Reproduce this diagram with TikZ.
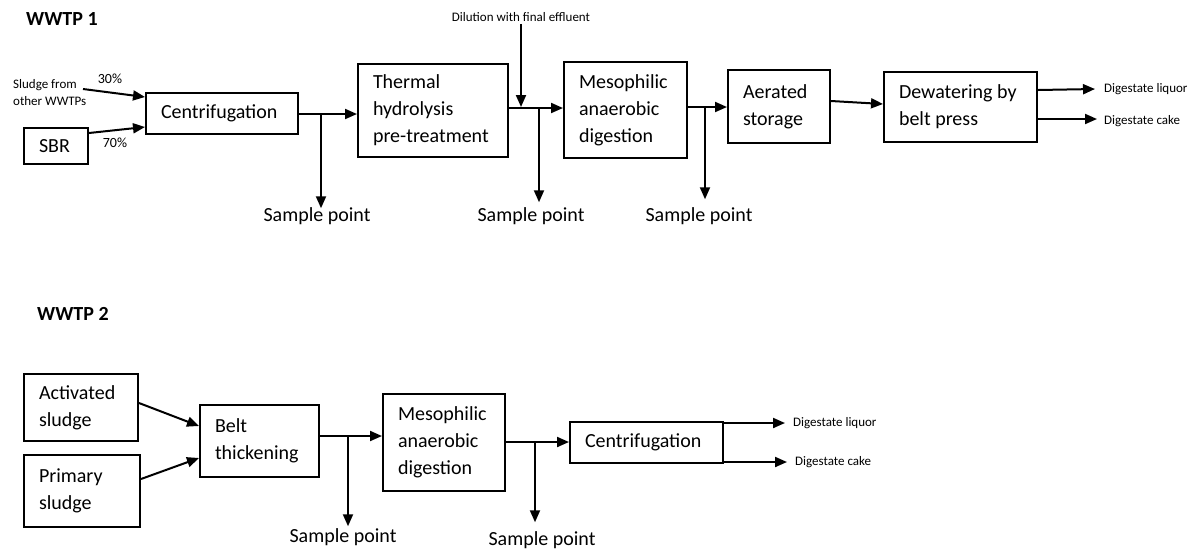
\documentclass[tikz,border=0pt]{standalone}
\usepackage{fontspec}
\setmainfont{Carlito}
\usetikzlibrary{arrows.meta,calc}
\begin{document}
\begin{tikzpicture}[x=1pt,y=-1pt,
  pbox/.style={draw, line width=2pt, inner xsep=15pt, inner ysep=0pt, align=flush left, anchor=north west, font=\fontsize{20}{27}\selectfont},
  flow/.style={line width=2pt, -{Triangle[length=12pt,width=10pt]}},
  small/.style={font=\fontsize{13}{17.5}\selectfont, inner sep=0pt, align=flush left},
  pct/.style={font=\fontsize{14}{16}\selectfont, inner sep=0pt},
  big/.style={font=\fontsize{20}{27}\selectfont, inner sep=0pt},
  ttl/.style={font=\fontsize{20}{24}\bfseries\selectfont, inner sep=0pt, anchor=west}]
\useasboundingbox (0,0) rectangle (1204,550);

% ---------- WWTP 1 ----------
\node[ttl] (t1) at (26,19) {WWTP 1};

\node[pbox, text width=34pt, minimum height=36pt] (sbr) at (23,127) {SBR};
\node[pbox, text width=122pt, minimum height=41pt] (cen1) at (145,92) {Centrifugation};
\node[pbox, text width=120pt, minimum height=93pt] (th) at (357,63) {Thermal\\hydrolysis\\pre-treatment};
\node[pbox, text width=93pt, minimum height=96pt] (meso1) at (563,61) {Mesophilic\\anaerobic\\digestion};
\node[pbox, text width=72pt, minimum height=73pt] (aer) at (727,69) {Aerated\\storage};
\node[pbox, text width=123pt, minimum height=70pt] (dew) at (883,71) {Dewatering by\\belt press};

\node[small, anchor=north west] (sludge) at (13,79) {Sludge from\\other WWTPs};
\node[pct] (p30) at (110,79) {30\%};
\node[pct] (p70) at (115,143) {70\%};
\coordinate (s1) at (83,89);

\draw[flow] (s1) -- ($(cen1.north west)+(0,5)$);
\draw[flow] ($(sbr.north east)+(0,6)$) -- ($(cen1.south west)+(0,-8)$);

\draw[flow] ($(cen1.east)+(0,0.5)$) -- ($(cen1.east -| th.west)+(0,0.5)$);
\node[big] (sp1) at (317,216) {Sample point};
\coordinate (b1) at (321,113);
\draw[flow] (b1) -- ($(b1 |- sp1.north)+(0,1)$);

\draw[flow] ($(th.east)+(0,-2.5)$) -- ($(th.east -| meso1.west)+(0,-2.5)$);
\node[small] (dil) at (521,17) {Dilution with final effluent};
\coordinate (d1) at (521,107);
\draw[flow] ($(d1 |- dil.south)+(0,2)$) -- (d1);
\node[big] (sp2) at (531,216) {Sample point};
\coordinate (b2) at (539,107);
\draw[flow] (b2) -- ($(b2 |- sp2.north)+(0,-5)$);

\draw[flow] ($(meso1.east)+(0,-3)$) -- ($(meso1.east -| aer.west)+(0,-3)$);
\node[big] (sp3) at (699,216) {Sample point};
\coordinate (b3) at (705,106);
\draw[flow] (b3) -- ($(b3 |- sp3.north)+(0,-8)$);

\draw[flow] ($(aer.east)+(0,-5.5)$) -- ($(dew.west)+(0,-3)$);

\node[small, anchor=west] (liq1) at (1104,89) {Digestate liquor};
\node[small, anchor=west] (cake1) at (1104,121) {Digestate cake};
\draw[flow] ($(dew.east)+(0,-17)$) -- ($(liq1.west)+(-9,0)$);
\draw[flow] ($(dew.east)+(0,12)$) -- ($(dew.east)+(59,12)$);

% ---------- WWTP 2 ----------
\node[ttl] (t2) at (37,314) {WWTP 2};

\node[pbox, text width=84pt, minimum height=67pt] (act) at (23,373) {Activated\\sludge};
\node[pbox, text width=86pt, minimum height=72pt] (prim) at (23,454) {Primary\\sludge};
\node[pbox, text width=89pt, minimum height=72pt] (belt) at (199,404) {Belt\\thickening};
\node[pbox, text width=92pt, minimum height=97pt] (meso2) at (382,393) {Mesophilic\\anaerobic\\digestion};
\node[pbox, text width=123pt, minimum height=41pt] (cen2) at (569,421) {Centrifugation};

\draw[flow] ($(act.east)+(0,-4.5)$) -- ($(belt.west)+(0,-15)$);
\draw[flow] ($(prim.east)+(0,-12)$) -- ($(belt.west)+(0,17)$);

\draw[flow] ($(belt.east)+(0,-5)$) -- ($(belt.east -| meso2.west)+(0,-5)$);
\node[big] (sp4) at (343,537) {Sample point};
\coordinate (b4) at (348,435);
\draw[flow] (b4) -- ($(b4 |- sp4.north)+(0,-2)$);

\draw[flow] ($(meso2.east)+(0,-0.5)$) -- ($(meso2.east -| cen2.west)+(0,-0.5)$);
\node[big] (sp5) at (542,540) {Sample point};
\coordinate (b5) at (535,441);
\draw[flow] (b5) -- ($(b5 |- sp5.north)+(0,-9)$);

\node[small, anchor=west] (liq2) at (793,423) {Digestate liquor};
\node[small, anchor=west] (cake2) at (795,462) {Digestate cake};
\draw[flow] ($(cen2.north east)+(0,2)$) -- ($(liq2.west)+(-8,0)$);
\draw[flow] ($(cen2.south east)+(0,-2)$) -- ($(cen2.south east)+(63,-2)$);
\end{tikzpicture}
\end{document}
